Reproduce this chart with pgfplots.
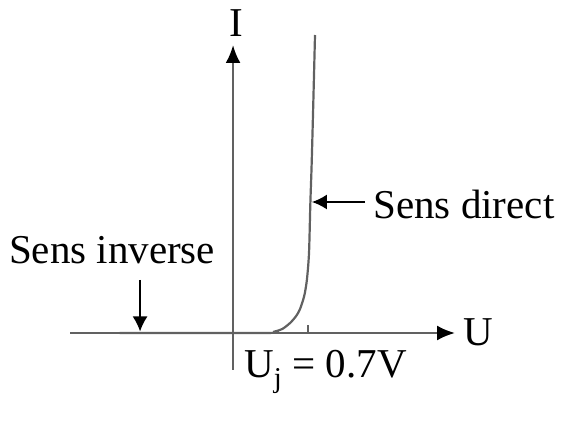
\documentclass[border=0pt]{standalone}
\usepackage{pgfplots}
\pgfplotsset{compat=1.18}
\usepackage{fontspec}
\setmainfont{Liberation Serif}
\usetikzlibrary{arrows.meta}

\begin{document}
\begin{tikzpicture}
\begin{axis}[
  x=107pt, y=10pt,
  axis lines=middle,
  xmin=-1.523, xmax=2.075, ymin=-3.7, ymax=28.8,
  ticks=none,
  axis line style={draw=black!62, line width=2.4pt,
    -{Latex[length=18pt,width=15pt,color=black]}},
  clip=false,
  font=\fontsize{41}{48}\selectfont,
]
% diode characteristic: flat in reverse bias, steep rise near 0.7 V
\addplot[black!62, line width=2.2pt, smooth, tension=0.45] coordinates {
  (-1.06,0) (0.30,0) (0.39,0.15) (0.46,0.4) (0.533,1.0) (0.59,1.7)
  (0.626,2.4) (0.665,3.7) (0.69,5.3) (0.71,8) (0.722,12.8)
  (0.735,17) (0.75,23) (0.766,29.8)
};
% small mark at the threshold voltage
\addplot[black!62, line width=1.8pt] coordinates {(0.70,0) (0.70,0.8)};

\node at (axis cs:0.03,30.95) {I};
\node at (axis cs:2.29,0.1) {U};
\node at (axis cs:0.865,-3.9) {U\textsubscript{j} = 0.7V};

\node[anchor=west, inner sep=0pt] at (axis cs:1.31,12.9) {Sens direct};
\draw[black, line width=1.8pt, -{Latex[length=15pt,width=15pt]}]
  (axis cs:1.234,13.1) -- (axis cs:0.737,13.1);

\node at (axis cs:-1.13,8.3) {Sens inverse};
\draw[black, line width=1.8pt, -{Latex[length=15pt,width=15pt]}]
  (axis cs:-0.869,5.3) -- (axis cs:-0.869,0.15);

\coordinate (bl) at (axis cs:-2.178,-8.8);
\coordinate (tr) at (axis cs:3.065,33.3);
\end{axis}
\pgfresetboundingbox
\useasboundingbox (bl) rectangle (tr);
\end{tikzpicture}
\end{document}
